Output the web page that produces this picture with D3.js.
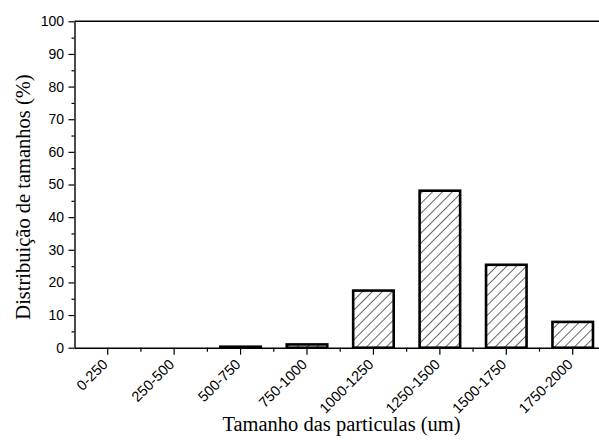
<!DOCTYPE html>
<html>
<head>
<meta charset="utf-8">
<script src="https://cdn.jsdelivr.net/npm/d3@7"></script>
<style>
  html, body { margin: 0; padding: 0; background: #fff; }
  svg { display: block; }
</style>
</head>
<body>
<svg id="chart" width="599" height="442"></svg>
<script>
// Particle size classes (um) and share of each class (%)
const categories = ["0-250", "250-500", "500-750", "750-1000", "1000-1250", "1250-1500", "1500-1750", "1750-2000"];
const values = [0, 0, 0.3, 1.0, 17.5, 48.1, 25.4, 7.9];
const yTicks = [0, 10, 20, 30, 40, 50, 60, 70, 80, 90, 100];
const yMinorTicks = [5, 15, 25, 35, 45, 55, 65, 75, 85, 95];

const svg = d3.select("#chart");
const margin = { left: 74.5, top: 21.3, bottom: 347.7 };
const bandW = 66.43;
const plotRight = margin.left + bandW * categories.length;

const x = d3.scaleBand()
  .domain(categories)
  .range([margin.left, plotRight])
  .paddingInner(0.39)
  .paddingOuter(0.195);

const y = d3.scaleLinear().domain([0, 100]).range([margin.bottom, margin.top]);

// Diagonal hatch for bar fills
const defs = svg.append("defs");
const pat = defs.append("pattern")
  .attr("id", "hatch")
  .attr("patternUnits", "userSpaceOnUse")
  .attr("width", 7)
  .attr("height", 7)
  .attr("patternTransform", "rotate(45)");
pat.append("rect").attr("width", 7).attr("height", 7).attr("fill", "#fff");
pat.append("line")
  .attr("x1", 0).attr("y1", 0).attr("x2", 0).attr("y2", 7)
  .attr("stroke", "#000").attr("stroke-width", 1.2);

// Bars
svg.append("g")
  .selectAll("rect")
  .data(values.map((v, i) => ({ c: categories[i], v })))
  .join("rect")
  .attr("x", d => x(d.c))
  .attr("y", d => y(d.v))
  .attr("width", x.bandwidth())
  .attr("height", d => y(0) - y(d.v))
  .attr("fill", "url(#hatch)")
  .attr("stroke", "#000")
  .attr("stroke-width", 2.6);

// Top frame line
svg.append("line")
  .attr("x1", margin.left).attr("x2", plotRight)
  .attr("y1", margin.top).attr("y2", margin.top)
  .attr("stroke", "#000").attr("stroke-width", 1.4);

// Y axis
const yAxis = d3.axisLeft(y).tickValues(yTicks).tickSize(6).tickSizeOuter(0).tickPadding(4.5);
const gy = svg.append("g").attr("transform", `translate(${margin.left},0)`).call(yAxis);
gy.select(".domain").attr("stroke-width", 1.4);
gy.selectAll(".tick line").attr("stroke-width", 1.2);
gy.selectAll(".tick text")
  .attr("font-family", "Liberation Sans, Arial, sans-serif")
  .attr("font-size", 14)
  .attr("fill", "#000");
const gyMinor = svg.append("g").attr("transform", `translate(${margin.left},0)`)
  .call(d3.axisLeft(y).tickValues(yMinorTicks).tickSize(3).tickFormat(""));
gyMinor.select(".domain").remove();
gyMinor.selectAll(".tick line").attr("stroke-width", 1.2);

// X axis
const xAxis = d3.axisBottom(x).tickSize(7).tickSizeOuter(0);
const gx = svg.append("g").attr("transform", `translate(0,${margin.bottom})`).call(xAxis);
gx.select(".domain").attr("stroke-width", 1.4);
gx.selectAll(".tick line").attr("stroke-width", 1.2);
gx.selectAll(".tick text")
  .attr("font-family", "Liberation Sans, Arial, sans-serif")
  .attr("font-size", 14.5)
  .attr("fill", "#000")
  .attr("text-anchor", "end")
  .attr("x", 0)
  .attr("y", 0)
  .attr("dy", 0)
  .attr("transform", "translate(1,17.5) rotate(-45)");

// Minor x ticks at class boundaries
const bounds = d3.range(1, categories.length).map(i => margin.left + i * bandW);
svg.append("g")
  .selectAll("line")
  .data(bounds)
  .join("line")
  .attr("x1", d => d).attr("x2", d => d)
  .attr("y1", margin.bottom).attr("y2", margin.bottom + 4)
  .attr("stroke", "#000").attr("stroke-width", 1.2);

// Axis titles
svg.append("text")
  .attr("x", 341.5)
  .attr("y", 431)
  .attr("text-anchor", "middle")
  .attr("font-family", "Liberation Serif, Times New Roman, serif")
  .attr("font-size", 20.5)
  .text("Tamanho das particulas (um)");

svg.append("text")
  .attr("transform", "translate(30,197) rotate(-90)")
  .attr("text-anchor", "middle")
  .attr("font-family", "Liberation Serif, Times New Roman, serif")
  .attr("font-size", 20.5)
  .text("Distribuição de tamanhos (%)");
</script>
</body>
</html>
